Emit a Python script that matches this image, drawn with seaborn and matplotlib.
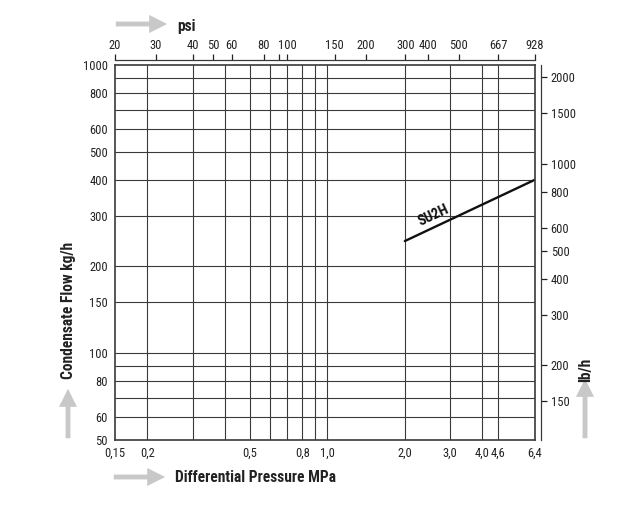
import numpy as np
import pandas as pd
import matplotlib
matplotlib.use("Agg")
import matplotlib.pyplot as plt
import seaborn as sns
from matplotlib import font_manager as fm
from matplotlib.ticker import NullLocator, FixedLocator, FixedFormatter

# ---------------- data ----------------
pressure_mpa = [2.0, 6.4]
flow_su2h = [245, 400]
curve_name = "SU2H"

mpa_ticks = [0.15, 0.2, 0.5, 0.8, 1.0, 2.0, 3.0, 4.0, 4.6, 6.4]
mpa_labels = ["0,15", "0,2", "0,5", "0,8", "1,0", "2,0", "3,0", "4,0", "4,6", "6,4"]
mpa_grid = [0.2, 0.3, 0.4, 0.5, 0.6, 0.7, 0.8, 0.9, 1.0, 2.0, 3.0, 4.0, 4.6]

flow_ticks = [50, 60, 80, 100, 150, 200, 300, 400, 500, 600, 800, 1000]
flow_grid = [60, 70, 80, 90, 100, 150, 200, 300, 400, 500, 600, 700, 800, 900]

psi_labels = ["20", "30", "40", "50", "60", "80", "", "100", "150", "200",
              "300", "400", "500", "667", "928"]
psi_pos_mpa = [0.15, 0.216, 0.30, 0.36, 0.425, 0.568, 0.65, 0.70, 1.07, 1.41,
               2.01, 2.46, 3.24, 4.6, 6.4]

lbh_ticks = [150, 200, 300, 400, 500, 600, 800, 1000, 1500, 2000]
LB_PER_KG = 2.20462

# ---------------- style ----------------
sns.set_theme(style="white")
names = {f.name for f in fm.fontManager.ttflist}
cond = [f for f in fm.fontManager.ttflist if "ondensed" in f.fname or "arrow" in f.fname]
fam = "DejaVu Sans"
for cand in ["Liberation Sans Narrow", "DejaVu Sans Condensed", "Roboto Condensed",
             "Open Sans Condensed"]:
    if cand in names:
        fam = cand
        break
plt.rcParams["font.family"] = [fam, "DejaVu Sans"]
if cond and fam == "DejaVu Sans":
    plt.rcParams["font.stretch"] = "condensed"
TXT = "#222222"
FRAME = "#3a3a3a"
GRID = "#3a3a3a"
ARROW = "#c8c8c8"
TICK_FS = 9
TITLE_FS = 11.2

W, H = 632, 514
fig = plt.figure(figsize=(W / 100, H / 100), dpi=100)
L, R, T, B = 115, 535, 65, 440
ax = fig.add_axes([L / W, 1 - B / H, (R - L) / W, (B - T) / H])

df = pd.DataFrame({"p": pressure_mpa, "q": flow_su2h})
sns.lineplot(data=df, x="p", y="q", ax=ax, color="#111111", linewidth=1.7)

ax.set_xscale("log")
ax.set_yscale("log")
ax.set_xlim(0.15, 6.4)
ax.set_ylim(50, 1000)

for v in mpa_grid:
    ax.axvline(v, color=GRID, lw=0.8, zorder=0)
for v in flow_grid:
    ax.axhline(v, color=GRID, lw=0.8, zorder=0)

ax.xaxis.set_major_locator(FixedLocator(mpa_ticks))
ax.xaxis.set_major_formatter(FixedFormatter(mpa_labels))
ax.xaxis.set_minor_locator(NullLocator())
ax.yaxis.set_major_locator(FixedLocator(flow_ticks))
ax.yaxis.set_major_formatter(FixedFormatter([str(v) for v in flow_ticks]))
ax.yaxis.set_minor_locator(NullLocator())
ax.tick_params(axis="both", length=0, pad=5, labelsize=TICK_FS, colors=TXT)
ax.set_xlabel("")
ax.set_ylabel("")
for s in ax.spines.values():
    s.set_visible(True)
    s.set_color(FRAME)
    s.set_linewidth(1.2)

# top psi axis
top = ax.secondary_xaxis(1 + 5 / (B - T))
top.xaxis.set_major_locator(FixedLocator(psi_pos_mpa))
top.xaxis.set_major_formatter(FixedFormatter(psi_labels))
top.xaxis.set_minor_locator(NullLocator())
top.tick_params(axis="x", direction="out", length=4, width=0.9, pad=2,
                labelsize=TICK_FS, colors=TXT)
top.spines["top"].set_color(FRAME)
top.spines["top"].set_linewidth(0.9)

# right lb/h axis
right = ax.secondary_yaxis(1 + 6 / (R - L),
                           functions=(lambda k: k * LB_PER_KG,
                                      lambda lb: lb / LB_PER_KG))
right.yaxis.set_major_locator(FixedLocator(lbh_ticks))
right.yaxis.set_major_formatter(FixedFormatter([str(v) for v in lbh_ticks]))
right.yaxis.set_minor_locator(NullLocator())
right.tick_params(axis="y", direction="out", length=4, width=0.9, pad=3,
                  labelsize=TICK_FS, colors=TXT)
right.spines["right"].set_color(FRAME)
right.spines["right"].set_linewidth(0.9)

# curve label
p0 = ax.transData.transform((pressure_mpa[0], flow_su2h[0]))
p1 = ax.transData.transform((pressure_mpa[1], flow_su2h[1]))
ang = np.degrees(np.arctan2(p1[1] - p0[1], p1[0] - p0[0]))
ax.text(2.58, 300, curve_name, rotation=ang, rotation_mode="anchor",
        ha="center", va="center", fontsize=10.5, fontweight="bold", color="#111111")

# axis titles and arrows
def arrow(x0, y0, x1, y1):
    fig.add_artist(matplotlib.patches.FancyArrowPatch(
        (x0 / W, 1 - y0 / H), (x1 / W, 1 - y1 / H), transform=fig.transFigure,
        arrowstyle="simple,head_length=1.3,head_width=1.3,tail_width=0.35",
        mutation_scale=10, color=ARROW, lw=0))

arrow(113, 24, 170, 24)
fig.text(177 / W, 1 - 27 / H, "psi", ha="left", va="center",
         fontsize=TITLE_FS, fontweight="bold", color=TXT)

arrow(111, 477, 168, 477)
fig.text(175 / W, 1 - 477 / H, "Differential Pressure MPa", ha="left", va="center",
         fontsize=TITLE_FS, fontweight="bold", color=TXT)

arrow(68, 441, 68, 386)
fig.text(68 / W, 1 - 310 / H, "Condensate Flow kg/h", ha="center", va="center",
         rotation=90, fontsize=TITLE_FS, fontweight="bold", color=TXT)

arrow(585, 441, 585, 376)
fig.text(586 / W, 1 - 370 / H, "lb/h", ha="center", va="center",
         rotation=90, fontsize=TITLE_FS, fontweight="bold", color=TXT)

fig.savefig("out.png", dpi=100, facecolor="white")
